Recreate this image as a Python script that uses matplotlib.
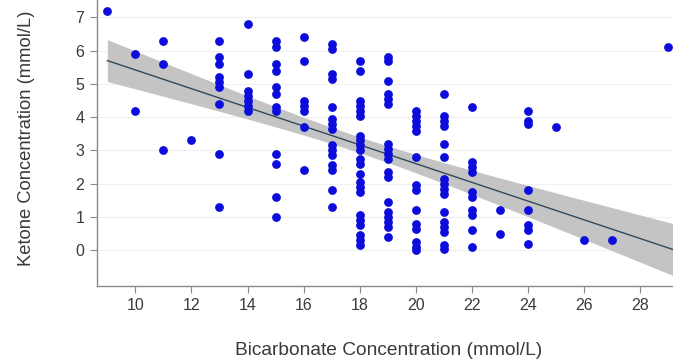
import numpy as np
import matplotlib
matplotlib.use("Agg")
import matplotlib.pyplot as plt

# Bicarbonate (x) and ketone (y) readings, grouped by bicarbonate value
bicarb_levels = [9, 10, 11, 12, 13, 14, 15, 16, 17, 18, 19, 20, 21, 22, 23, 24, 25, 26, 27, 29]
ketone_by_level = [
    [7.2],
    [5.9, 4.2],
    [6.3, 5.6, 3.0],
    [3.3],
    [6.3, 5.8, 5.6, 5.2, 5.05, 4.9, 4.4, 2.9, 1.3],
    [6.8, 5.3, 4.8, 4.65, 4.5, 4.35, 4.2],
    [6.3, 6.1, 5.6, 5.4, 4.9, 4.7, 4.3, 4.2, 2.9, 2.6, 1.6, 1.0],
    [6.4, 5.7, 4.5, 4.35, 4.2, 3.7, 2.4],
    [6.2, 6.05, 5.3, 5.15, 4.3, 3.95, 3.8, 3.65, 3.15, 3.0, 2.85, 2.55, 2.4, 1.8, 1.3],
    [5.7, 5.4, 4.5, 4.35, 4.2, 4.05, 3.45, 3.3, 3.15, 3.0, 2.75, 2.6, 2.3, 2.05,
     1.9, 1.75, 1.05, 0.9, 0.75, 0.45, 0.3, 0.15],
    [5.8, 5.7, 5.1, 4.7, 4.55, 4.4, 3.2, 3.05, 2.9, 2.75, 2.35, 2.2, 1.45, 1.15,
     1.0, 0.85, 0.7, 0.4],
    [4.2, 4.05, 3.9, 3.75, 3.6, 2.8, 1.95, 1.8, 1.2, 0.8, 0.65, 0.25, 0.1, 0.0],
    [4.7, 4.05, 3.9, 3.75, 3.2, 2.8, 2.15, 2.0, 1.85, 1.7, 1.15, 0.85, 0.7, 0.55, 0.15, 0.05],
    [4.3, 2.65, 2.5, 2.35, 1.75, 1.6, 1.2, 1.05, 0.6, 0.1],
    [1.2, 0.5],
    [4.2, 3.9, 3.8, 1.8, 1.2, 0.75, 0.6, 0.2],
    [3.7],
    [0.3],
    [0.3],
    [6.1],
]

# fitted line and CI half-widths
fit_x = [9.0, 29.2]
fit_y = [5.70, 0.02]
ci_x = [9.0, 19.0, 29.0]
ci_half = [0.63, 0.25, 0.77]

x = np.concatenate([[b] * len(k) for b, k in zip(bicarb_levels, ketone_by_level)]).astype(float)
y = np.concatenate(ketone_by_level).astype(float)

xf = np.linspace(fit_x[0], fit_x[1], 200)
yf = np.interp(xf, fit_x, fit_y)
# CI of a linear fit: half^2 is quadratic in x
q = np.polyfit(ci_x, np.square(ci_half), 2)
half = np.sqrt(np.polyval(q, xf))

plt.rcParams['font.family'] = ['Liberation Sans', 'DejaVu Sans']

fig = plt.figure(figsize=(6.73, 3.61), dpi=100)
ax = fig.add_axes([0.1441, 0.2078, 0.8559, 0.7922])

for yy in range(0, 8):
    ax.axhline(yy, color='#f0f0f0', lw=0.8, zorder=0)

ax.fill_between(xf, yf - half, yf + half, color='#c4c4c4', lw=0, zorder=1)
ax.plot(xf, yf, color='#2e4a5c', lw=1.0, zorder=2)
ax.scatter(x, y, s=40, color='#0c0cdc', lw=0, zorder=3)

ax.set_xlim(8.63, 29.18)
ax.set_ylim(-1.07, 7.52)
ax.set_xticks(range(10, 29, 2))
ax.set_yticks(range(0, 8))
ax.spines['top'].set_visible(False)
ax.spines['right'].set_visible(False)
for sp in ('left', 'bottom'):
    ax.spines[sp].set_color('#8a8a8a')
    ax.spines[sp].set_linewidth(1.0)
ax.tick_params(axis='both', length=5, width=0.8, color='#8a8a8a',
               labelsize=11.5, labelcolor='#3a3a3a', pad=4)

fig.text(0.578, 0.028, 'Bicarbonate Concentration (mmol/L)', ha='center', va='center',
         fontsize=13.8, color='#3a3a3a')
fig.text(0.040, 0.618, 'Ketone Concentration (mmol/L)', ha='center', va='center',
         rotation=90, fontsize=13.2, color='#3a3a3a')

fig.savefig('out.png', dpi=100)
